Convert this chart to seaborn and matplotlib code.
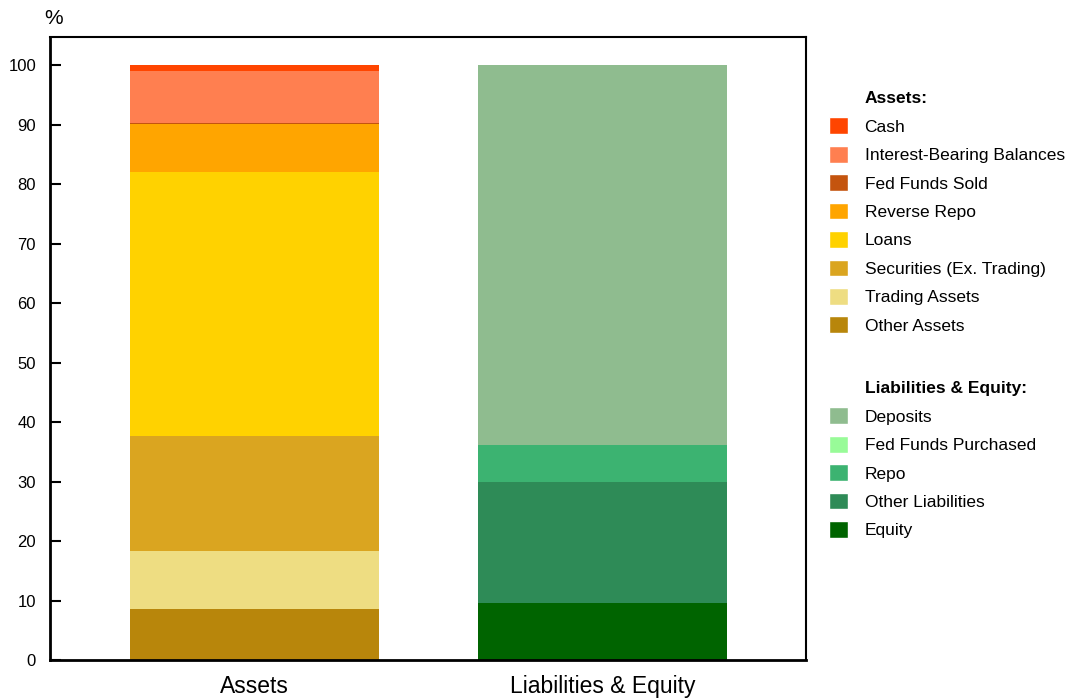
import pandas as pd
import matplotlib.pyplot as plt
import seaborn as sns
from matplotlib.patches import Patch

# categories (x axis)
sides = ["Assets", "Liabilities & Equity"]

# asset components, bottom to top (percent of total)
asset_items = ["Other Assets", "Trading Assets", "Securities (Ex. Trading)", "Loans",
               "Reverse Repo", "Fed Funds Sold", "Interest-Bearing Balances", "Cash"]
asset_vals = [8.6, 9.8, 19.3, 44.4, 8.0, 0.15, 8.85, 0.9]
asset_colors = ["#B8860B", "#EEDD82", "#DAA520", "#FFD200",
                "#FFA500", "#C4540E", "#FF7F50", "#FF4500"]

# liabilities & equity components, bottom to top
liab_items = ["Equity", "Other Liabilities", "Repo", "Fed Funds Purchased", "Deposits"]
liab_vals = [9.5, 20.4, 6.3, 0.0, 63.8]
liab_colors = ["#006400", "#2E8B57", "#3CB371", "#98FB98", "#8FBC8F"]

sns.set_style("white")
plt.rcParams['font.family'] = ['Liberation Sans', 'DejaVu Sans']
plt.rcParams['text.color'] = 'black'
plt.rcParams['xtick.color'] = 'black'
plt.rcParams['ytick.color'] = 'black'

fig = plt.figure(figsize=(10.72, 7), dpi=100)
ax = fig.add_axes([50 / 1072, 40 / 700, 756 / 1072, 623 / 700])

bar_w = 0.716


def stack(side, items, vals, colors):
    bottom = 0.0
    for item, v, c in zip(items, vals, colors):
        d = pd.DataFrame({"side": [side], "value": [v]})
        sns.barplot(data=d, x="side", y="value", order=sides, bottom=bottom,
                    color=c, saturation=1, width=bar_w, errorbar=None,
                    linewidth=0, ax=ax)
        bottom += v


stack("Assets", asset_items, asset_vals, asset_colors)
stack("Liabilities & Equity", liab_items, liab_vals, liab_colors)

ax.set_xlim(-0.588, 1.585)
ax.set_ylim(0, 104.75)
ax.set_yticks(range(0, 101, 10))
ax.set_xlabel("")
ax.set_ylabel("")
ax.tick_params(axis="y", direction="in", length=8, width=1.5, labelsize=12, pad=10, left=True)
ax.tick_params(axis="x", length=0, labelsize=16.5, pad=11)
for s in ax.spines.values():
    s.set_visible(True)
    s.set_color("black")
    s.set_linewidth(1.5)
ax.spines["bottom"].set_linewidth(2)
ax.spines["left"].set_linewidth(2)

fig.text(44 / 1072, 1 - 19 / 700, "%", fontsize=15, va="center", ha="left")

# legends: one per group, headers use invisible handles
blank = Patch(facecolor="none", edgecolor="none")
leg_kw = dict(loc="upper left", frameon=False, fontsize=12.5, handlelength=1.1,
              handleheight=1.1, handletextpad=0.95, labelspacing=0.645,
              borderpad=0, borderaxespad=0)


def group_legend(title, items, colors, top_px):
    handles = [blank] + [Patch(facecolor=c) for c in colors[::-1]]
    labels = [title] + items[::-1]
    leg = fig.legend(handles, labels, bbox_to_anchor=(829 / 1072, 1 - top_px / 700), **leg_kw)
    leg.get_texts()[0].set_fontweight("bold")
    return leg


group_legend("Assets:", asset_items, asset_colors, 89)
group_legend("Liabilities & Equity:", liab_items, liab_colors, 379)

fig.savefig("out.png", dpi=100)
